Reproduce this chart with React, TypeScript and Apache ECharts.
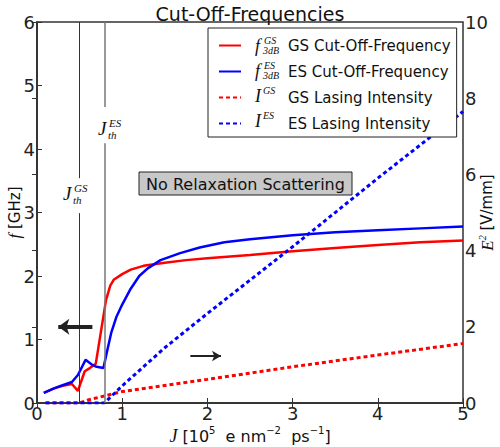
import React, { useEffect, useRef } from "react";
import * as echarts from "echarts";

// GS cut-off frequency [GHz] vs J
const gsFreqJ = [0.08, 0.2, 0.3, 0.41, 0.48, 0.56, 0.62, 0.69, 0.81, 0.86, 0.9, 1.0, 1.1, 1.25, 1.5, 1.75, 2.0, 2.5, 3.0, 3.5, 4.0, 4.5, 5.0];
const gsFreq = [0.16, 0.23, 0.27, 0.3, 0.19, 0.5, 0.55, 0.62, 1.62, 1.85, 1.94, 2.03, 2.1, 2.16, 2.21, 2.25, 2.28, 2.33, 2.39, 2.44, 2.49, 2.53, 2.56];

// ES cut-off frequency [GHz] vs J
const esFreqJ = [0.08, 0.2, 0.3, 0.41, 0.48, 0.57, 0.65, 0.7, 0.78, 0.82, 0.87, 0.93, 1.0, 1.1, 1.2, 1.3, 1.45, 1.68, 1.91, 2.2, 2.5, 3.0, 3.5, 4.0, 4.5, 5.0];
const esFreq = [0.16, 0.23, 0.28, 0.33, 0.44, 0.68, 0.6, 0.57, 0.55, 0.8, 1.1, 1.35, 1.55, 1.8, 2.0, 2.12, 2.25, 2.36, 2.45, 2.53, 2.58, 2.64, 2.69, 2.72, 2.75, 2.78];

// GS lasing intensity E^2 [V/mm] vs J
const gsIntJ = [0.1, 0.5, 0.6, 1.0, 1.5, 2.0, 3.0, 4.0, 5.0];
const gsInt = [0, 0, 0.08, 0.3, 0.46, 0.62, 0.95, 1.26, 1.56];

// ES lasing intensity E^2 [V/mm] vs J
const esIntJ = [0.1, 0.79, 1.0, 1.5, 2.0, 3.0, 4.0, 5.0];
const esInt = [0, 0, 0.45, 1.45, 2.35, 4.1, 5.9, 7.65];

// thresholds
const jthGS = 0.5;
const jthES = 0.79;

const xTicks = [0, 1, 2, 3, 4, 5];
const fTicks = [0, 1, 2, 3, 4, 5, 6];
const eTicks = [0, 2, 4, 6, 8, 10];

const seriesNames = [
  "GS Cut-Off-Frequency",
  "ES Cut-Off-Frequency",
  "GS Lasing Intensity",
  "ES Lasing Intensity",
];

const zip = (xs: number[], ys: number[]) => xs.map((x, i) => [x, ys[i]]);

const SANS = "DejaVu Sans";
const SERIF = "Liberation Serif";
const RED = "#ff0000";
const BLUE = "#0000ff";

export default function App() {
  const ref = useRef<HTMLDivElement>(null);

  useEffect(() => {
    if (!ref.current) return;
    const chart = echarts.init(ref.current, undefined, { renderer: "svg" });

    const axisLineStyle = { color: "#333", width: 1.5 };
    const labelStyle = { fontSize: 18, color: "#222", fontFamily: SANS };

    const mathText = (x: number, y: number, text: string, size: number) => ({
      type: "text",
      x,
      y,
      style: {
        text,
        fontSize: size,
        fontStyle: "italic",
        fontFamily: SERIF,
        fill: "#111",
        verticalAlign: "middle",
      },
      z: 100,
    });

    const legendMath = (y: number, base: string, sup: string, sub: string | null) => {
      const els: any[] = [mathText(255, y + 1, base, 18)];
      els.push(mathText(base === "f" ? 264 : 263, y - 5, sup, 10));
      if (sub) els.push(mathText(263, y + 5, sub, 10));
      return els;
    };

    const option: any = {
      animation: false,
      textStyle: { fontFamily: SANS },
      title: {
        text: "Cut-Off-Frequencies",
        left: "center",
        top: -1,
        textStyle: { fontSize: 19, fontWeight: "normal", color: "#111", fontFamily: SANS },
      },
      grid: {
        left: 37,
        right: 37,
        top: 22,
        bottom: 44,
        containLabel: false,
        outerBoundsMode: "none",
        show: true,
        borderColor: "#333",
        borderWidth: 1.5,
        backgroundColor: "transparent",
      },
      legend: {
        orient: "vertical",
        left: 208,
        top: 28,
        padding: [10, 6, 6, 10],
        itemWidth: 22,
        itemHeight: 14,
        itemGap: 11,
        backgroundColor: "#fff",
        borderColor: "#222",
        borderWidth: 1,
        borderRadius: 0,
        data: seriesNames,
        itemStyle: { color: "rgba(0,0,0,0)", borderWidth: 0, borderColor: "rgba(0,0,0,0)", opacity: 0 },
        formatter: (name: string) => `{sp| }${name}`,
        textStyle: {
          fontSize: 15,
          lineHeight: 14,
          color: "#111",
          fontFamily: SANS,
          rich: { sp: { width: 42, lineHeight: 14, fontSize: 15 } },
        },
        selectedMode: false,
      },
      xAxis: [
        {
          type: "value",
          min: 0,
          max: 5,
          interval: 1,
          position: "bottom",
          axisLine: { show: true, lineStyle: axisLineStyle },
          axisTick: { show: true, inside: true, length: 5, lineStyle: { color: "#333", width: 1 } },
          axisLabel: {
            ...labelStyle,
            margin: 1,
            showMinLabel: true,
            showMaxLabel: true,
            formatter: (v: number) => (xTicks.includes(v) ? String(v) : ""),
          },
          splitLine: { show: false },
          name: "{j|J} [10{s|5}  e nm{s|−2}  ps{s|−1}]",
          nameLocation: "middle",
          nameGap: 22,
          nameMoveOverlap: false,
          nameTextStyle: {
            fontSize: 16,
            color: "#111",
            fontFamily: SANS,
            lineHeight: 22,
            rich: {
              j: { fontFamily: SERIF, fontStyle: "italic", fontSize: 18, lineHeight: 22 },
              s: { fontSize: 10, lineHeight: 10, verticalAlign: "top", fontFamily: SANS },
            },
          },
        },
        {
          type: "value",
          min: 0,
          max: 5,
          interval: 1,
          position: "top",
          axisLine: { show: true, lineStyle: axisLineStyle },
          axisTick: { show: true, inside: true, length: 5, lineStyle: { color: "#333", width: 1 } },
          axisLabel: { show: false },
          splitLine: { show: false },
        },
      ],
      yAxis: [
        {
          type: "value",
          min: 0,
          max: 6,
          interval: 1,
          position: "left",
          axisLine: { show: true, lineStyle: axisLineStyle },
          axisTick: { show: true, inside: true, length: 5, lineStyle: { color: "#333", width: 1 } },
          axisLabel: {
            ...labelStyle,
            margin: 2,
            showMinLabel: true,
            showMaxLabel: true,
            formatter: (v: number) => (fTicks.includes(v) ? String(v) : ""),
          },
          splitLine: { show: false },
          name: "{i|f} [GHz]",
          nameLocation: "middle",
          nameGap: 14,
          nameMoveOverlap: false,
          nameTextStyle: {
            fontSize: 15,
            color: "#111",
            fontFamily: SANS,
            rich: { i: { fontFamily: SERIF, fontStyle: "italic", fontSize: 17 } },
          },
        },
        {
          type: "value",
          min: 0,
          max: 10,
          interval: 2,
          position: "right",
          axisLine: { show: true, lineStyle: axisLineStyle },
          axisTick: { show: true, inside: true, length: 5, lineStyle: { color: "#333", width: 1 } },
          axisLabel: {
            ...labelStyle,
            margin: 2,
            showMinLabel: true,
            showMaxLabel: true,
            formatter: (v: number) => (eTicks.includes(v) ? String(v) : ""),
          },
          splitLine: { show: false },
          name: "{i|E}{s|2} [V/mm]",
          nameLocation: "middle",
          nameGap: 14,
          nameMoveOverlap: false,
          nameTextStyle: {
            fontSize: 15,
            color: "#111",
            fontFamily: SANS,
            lineHeight: 20,
            rich: {
              i: { fontFamily: SERIF, fontStyle: "italic", fontSize: 17, lineHeight: 20 },
              s: { fontFamily: SERIF, fontStyle: "italic", fontSize: 10, lineHeight: 10, verticalAlign: "top" },
            },
          },
        },
      ],
      series: [
        {
          name: seriesNames[0],
          type: "line",
          data: zip(gsFreqJ, gsFreq),
          symbol: "none",
          lineStyle: { color: RED, width: 2.5 },
          itemStyle: { color: RED },
          z: 3,
        },
        {
          name: seriesNames[1],
          type: "line",
          data: zip(esFreqJ, esFreq),
          symbol: "none",
          lineStyle: { color: BLUE, width: 2.5 },
          itemStyle: { color: BLUE },
          z: 4,
        },
        {
          name: seriesNames[2],
          type: "line",
          yAxisIndex: 1,
          data: zip(gsIntJ, gsInt),
          symbol: "none",
          lineStyle: { color: RED, width: 3, type: [4, 3] },
          itemStyle: { color: RED },
          z: 3,
        },
        {
          name: seriesNames[3],
          type: "line",
          yAxisIndex: 1,
          data: zip(esIntJ, esInt),
          symbol: "none",
          lineStyle: { color: BLUE, width: 3, type: [4, 3] },
          itemStyle: { color: BLUE },
          z: 3,
        },
        {
          name: "thresholds",
          type: "line",
          data: [],
          silent: true,
          markLine: {
            silent: true,
            symbol: ["none", "none"],
            label: { show: false },
            animation: false,
            data: [
              [
                { coord: [jthGS, 0], lineStyle: { color: "#333", width: 1, type: "solid" } },
                { coord: [jthGS, 2.99] },
              ],
              [
                { coord: [jthGS, 3.54], lineStyle: { color: "#333", width: 1, type: "solid" } },
                { coord: [jthGS, 6] },
              ],
              [
                { coord: [jthES, 0], lineStyle: { color: "#777", width: 1.5, type: "solid" } },
                { coord: [jthES, 4.09] },
              ],
              [
                { coord: [jthES, 4.66], lineStyle: { color: "#777", width: 1.5, type: "solid" } },
                { coord: [jthES, 6] },
              ],
            ],
          },
        },
        {
          name: "arrowLeft",
          type: "line",
          data: [],
          silent: true,
          markLine: {
            silent: true,
            symbol: ["none", "arrow"],
            symbolSize: [12, 11],
            label: { show: false },
            lineStyle: { color: "#222", width: 4, type: "solid" },
            data: [[{ coord: [0.65, 1.2] }, { coord: [0.25, 1.2] }]],
          },
        },
        {
          name: "arrowRight",
          type: "line",
          data: [],
          silent: true,
          markLine: {
            silent: true,
            symbol: ["none", "arrow"],
            symbolSize: [8, 9],
            label: { show: false },
            lineStyle: { color: "#222", width: 2, type: "solid" },
            data: [[{ coord: [1.8, 0.74] }, { coord: [2.16, 0.74] }]],
          },
        },
      ],
      graphic: [
        {
          type: "group",
          children: [
            {
              type: "rect",
              shape: { x: 139, y: 172, width: 213, height: 23 },
              style: { fill: "#c8c8c8", stroke: "#222", lineWidth: 1 },
              z: 90,
            },
            {
              type: "text",
              x: 245.5,
              y: 184,
              style: {
                text: "No Relaxation Scattering",
                fontSize: 16,
                fontFamily: SANS,
                fill: "#111",
                align: "center",
                verticalAlign: "middle",
              },
              z: 91,
            },
          ],
        },
        // threshold labels
        mathText(63, 193, "J", 19),
        mathText(74, 188, "GS", 11),
        mathText(73, 200, "th", 11),
        mathText(98, 128, "J", 19),
        mathText(109, 123, "ES", 11),
        mathText(108, 135, "th", 11),
        // legend math symbols
        ...legendMath(45, "f", "GS", "3dB"),
        ...legendMath(70, "f", "ES", "3dB"),
        ...legendMath(95, "I", "GS", null),
        ...legendMath(120, "I", "ES", null),
      ],
    };

    chart.setOption(option);
    return () => chart.dispose();
  }, []);

  return (
    <div
      ref={ref}
      style={{ position: "fixed", left: 0, top: 0, width: 500, height: 447, background: "#fff" }}
    />
  );
}
